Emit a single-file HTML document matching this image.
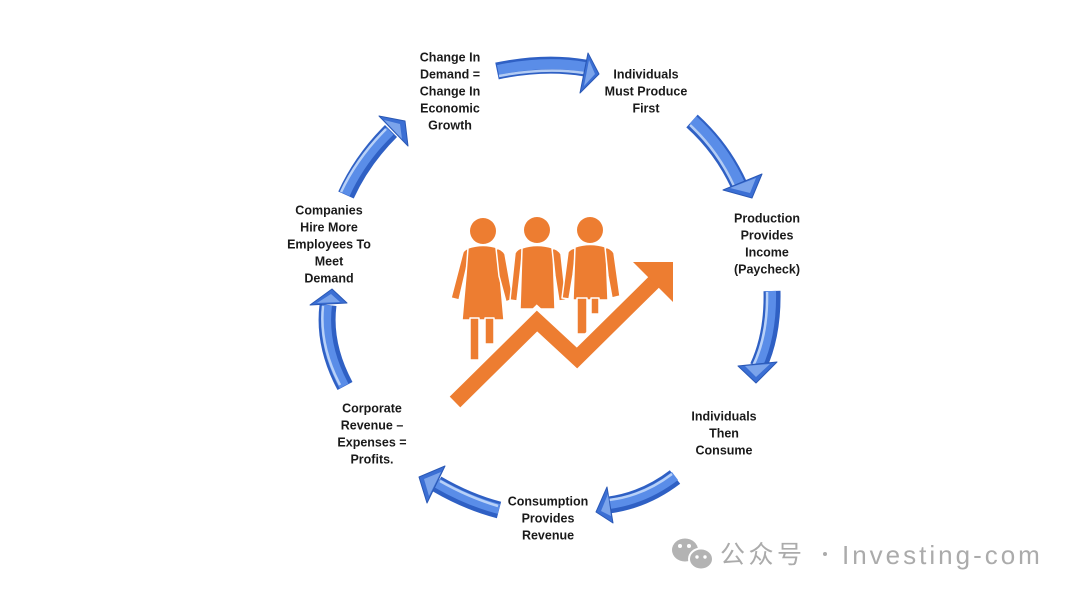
<!DOCTYPE html>
<html><head><meta charset="utf-8"><style>
html,body{margin:0;padding:0;background:#fff;}
svg{display:block}
</style></head><body>
<svg width="1080" height="596" viewBox="0 0 1080 596" xmlns="http://www.w3.org/2000/svg">
<rect width="1080" height="596" fill="#fff"/>
<defs>
<g id="dummy"></g>
</defs>

<!-- Arrows -->
<g fill="none" stroke-linecap="butt">
  <!-- shafts base -->
  <g stroke="#2F60C4" stroke-width="17">
    <path d="M497,71 Q545,61 585,68"/>
    <path d="M692,121 Q722,148 739,185"/>
    <path d="M772,291 Q773,335 758,367"/>
    <path d="M675,477 Q645,500 609,505"/>
    <path d="M499,510 Q468,502 437,484"/>
    <path d="M345,386 Q323,345 328,305"/>
    <path d="M346,195 Q362,160 391,131"/>
  </g>
  <g stroke="#5A8DE8" stroke-width="10">
    <path d="M498,70 Q545,60 585,67"/>
    <path d="M693,120 Q723,147 740,184"/>
    <path d="M771,291 Q772,335 757,367"/>
    <path d="M675,476 Q645,499 609,504"/>
    <path d="M499,509 Q468,501 437,483"/>
    <path d="M344,386 Q322,345 327,305"/>
    <path d="M345,194 Q361,159 390,131"/>
  </g>
  <g stroke="#C2D8FA" stroke-width="2.5" opacity="0.9">
    <path d="M499,76 Q545,67 584,73"/>
    <path d="M690,125 Q718,151 734,186"/>
    <path d="M767,292 Q768,335 753,366"/>
    <path d="M672,474 Q643,496 609,500"/>
    <path d="M498,506 Q468,497 440,481"/>
    <path d="M340,385 Q319,345 323,306"/>
    <path d="M341,192 Q357,158 386,129"/>
  </g>
</g>
<!-- heads -->
<g fill="#3B6FD4" stroke="#2A58B5" stroke-width="1" stroke-linejoin="round">
  <polygon points="588,53 599,74 580,93"/>
  <polygon points="723,190 762,174 752,198"/>
  <polygon points="738,366 777,362 756,383"/>
  <polygon points="607,487 613,523 596,512"/>
  <polygon points="445,466 427,503 419,477"/>
  <polygon points="310,305 347,303 332,289"/>
  <polygon points="379,116 408,146 405,121"/>
</g>
<g fill="#8CB2F0" opacity="0.8">
  <polygon points="589,60 595,74 584,86"/>
  <polygon points="730,188 756,178 750,193"/>
  <polygon points="745,366 770,364 756,377"/>
  <polygon points="608,494 611,516 601,511"/>
  <polygon points="441,472 429,496 424,479"/>
  <polygon points="317,303 340,302 331,294"/>
  <polygon points="384,120 402,139 400,124"/>
</g>

<!-- Central icon -->
<g fill="#ED7D31">
  <circle cx="483" cy="231" r="13"/>
  <circle cx="537" cy="230" r="13"/>
  <circle cx="590" cy="230" r="13"/>
</g>
<g fill="#ED7D31" stroke="#fff" stroke-width="1.5" stroke-linejoin="round">
  <!-- woman -->
  <path d="M463,252 Q466,248 471,248 L466,270 L459,300 L451,298 Z"/>
  <path d="M468,248 Q483,243 498,248 L500,275 L504,320 L462,320 L466,275 Z"/>
  <path d="M496,248 Q502,249 505,254 L513,299 L506,302 L499,276 Z"/>
  <rect x="470" y="318" width="9" height="42"/>
  <rect x="485" y="318" width="9" height="26"/>
  <!-- middle man -->
  <path d="M515,253 Q518,248 523,248 L520,275 L517,301 L510,300 Z"/>
  <path d="M522,248 Q537,243 553,248 L555,309 L520,309 Z"/>
  <path d="M552,248 Q558,249 561,254 L566,300 L559,301 L555,276 Z"/>
  <!-- right man -->
  <path d="M568,252 Q571,248 576,248 L573,275 L569,299 L562,298 Z"/>
  <path d="M575,247 Q590,242 606,247 L608,300 L573,300 Z"/>
  <path d="M605,247 Q611,248 614,253 L620,296 L612,298 L608,276 Z"/>
  <rect x="577" y="298" width="10" height="36"/>
  <rect x="591" y="298" width="8" height="16"/>
</g>
<!-- chart line -->
<polyline points="460,397 537,321 577,358 656,280" fill="none" stroke="#fff" stroke-width="24" stroke-linejoin="miter"/>
<polygon points="630,259 676,259 676,305" fill="#fff" stroke="#fff" stroke-width="8" stroke-linejoin="round"/>
<polyline points="455,402 537,321 577,358 656,280" fill="none" stroke="#ED7D31" stroke-width="15" stroke-linejoin="miter"/>
<polygon points="633,262 673,262 673,302" fill="#ED7D31"/>

<!-- Labels -->
<g font-family="'Liberation Sans', Arial, sans-serif" font-weight="bold" font-size="12.5" fill="#1a1a1a" text-anchor="middle">
  <text x="450" y="61.5">Change In</text>
  <text x="450" y="78.5">Demand =</text>
  <text x="450" y="95.5">Change In</text>
  <text x="450" y="112.5">Economic</text>
  <text x="450" y="129.5">Growth</text>

  <text x="646" y="78.5">Individuals</text>
  <text x="646" y="95.5">Must Produce</text>
  <text x="646" y="112.5">First</text>

  <text x="767" y="222.5">Production</text>
  <text x="767" y="239.5">Provides</text>
  <text x="767" y="256.5">Income</text>
  <text x="767" y="273.5">(Paycheck)</text>

  <text x="724" y="420.5">Individuals</text>
  <text x="724" y="437.5">Then</text>
  <text x="724" y="454.5">Consume</text>

  <text x="548" y="505.5">Consumption</text>
  <text x="548" y="522.5">Provides</text>
  <text x="548" y="539.5">Revenue</text>

  <text x="372" y="412.5">Corporate</text>
  <text x="372" y="429.5">Revenue –</text>
  <text x="372" y="446.5">Expenses =</text>
  <text x="372" y="463.5">Profits.</text>

  <text x="329" y="214.5">Companies</text>
  <text x="329" y="231.5">Hire More</text>
  <text x="329" y="248.5">Employees To</text>
  <text x="329" y="265.5">Meet</text>
  <text x="329" y="282.5">Demand</text>
</g>

<!-- Watermark -->
<g>
  <ellipse cx="685" cy="550" rx="13" ry="11.5" fill="#b3b3b3"/>
  <ellipse cx="701" cy="559" rx="12" ry="10.5" fill="#b3b3b3" stroke="#fff" stroke-width="2"/>
  <circle cx="680" cy="546" r="2" fill="#fff"/>
  <circle cx="689" cy="546" r="2" fill="#fff"/>
  <circle cx="697" cy="557" r="1.7" fill="#fff"/>
  <circle cx="705" cy="557" r="1.7" fill="#fff"/>
  <text x="720" y="563" font-family="'Liberation Sans','Noto Sans CJK SC',sans-serif" font-size="25" fill="#ababab" letter-spacing="3.5">公众号</text>
  <circle cx="825" cy="554" r="2" fill="#ababab"/>
  <text x="842" y="564" font-family="'Liberation Sans',sans-serif" font-size="26" fill="#ababab" letter-spacing="3">Investing-com</text>
</g>
</svg>
</body></html>
